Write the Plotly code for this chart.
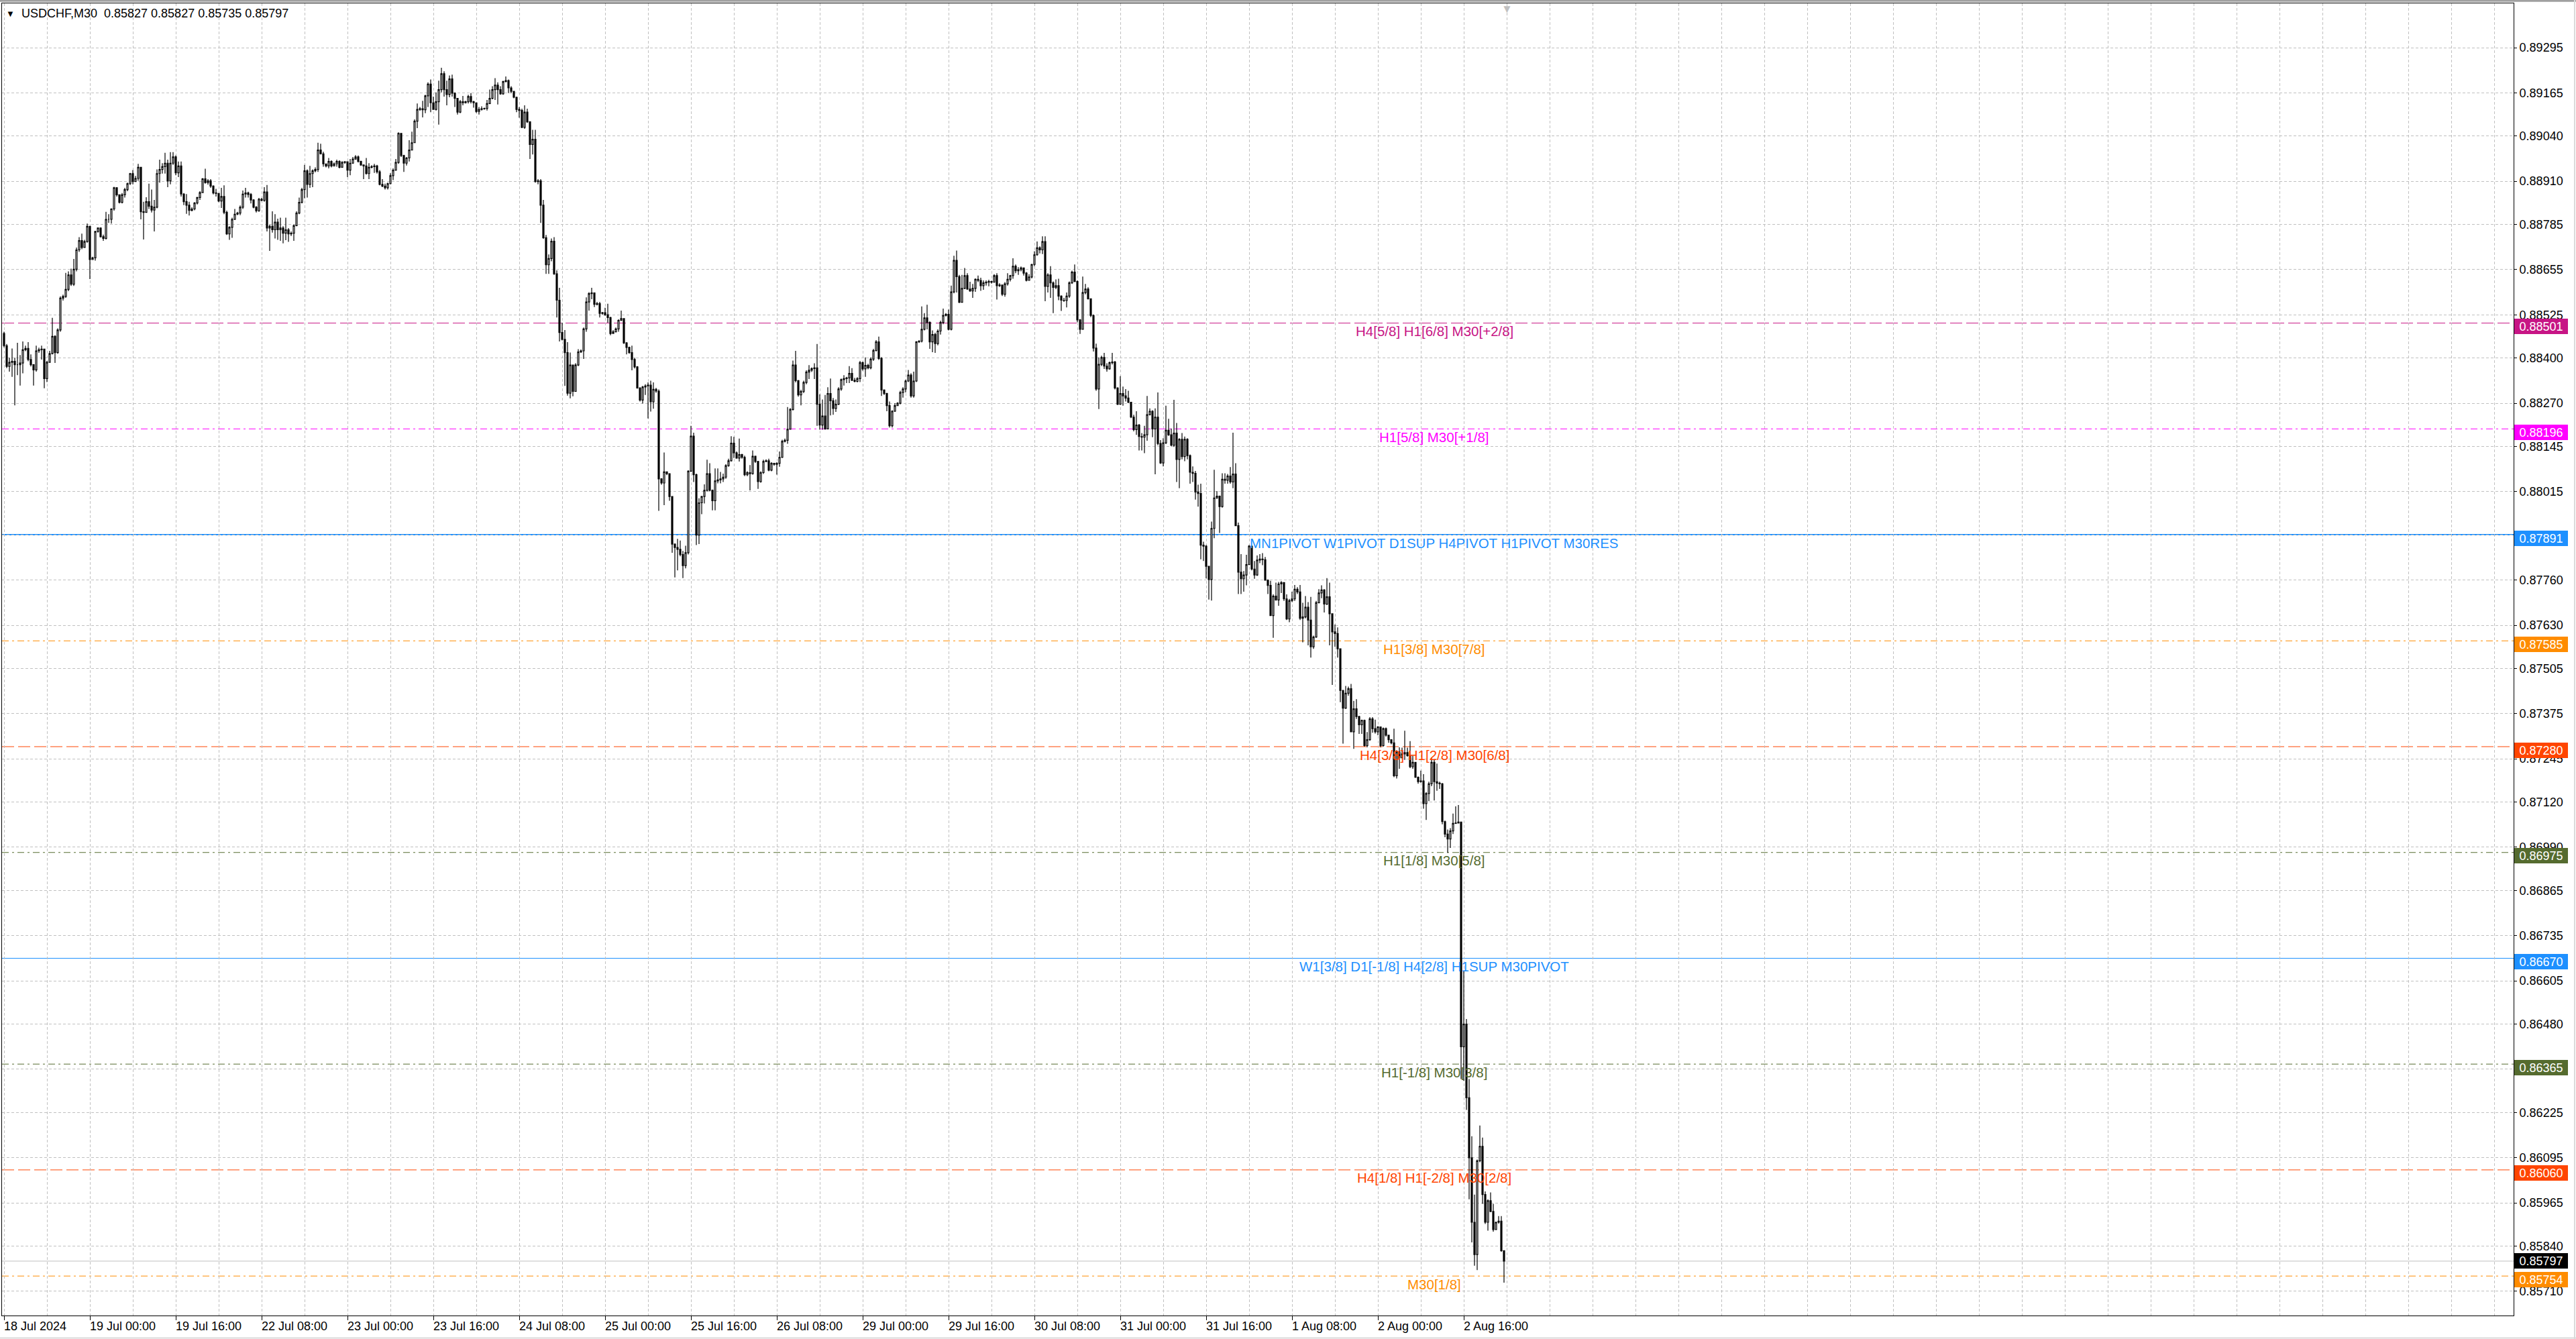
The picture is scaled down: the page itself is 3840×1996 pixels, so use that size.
import pandas as pd
import plotly.graph_objects as go

# USDCHF M30 candles, 18 Jul 08:00 .. 2 Aug 23:30 (broker time)
# prices are kept in points (1 point = 0.00001)
first_open = 88471
close_pts = [
    88436, 88376, 88388, 88391, 88381, 88381, 88386, 88424, 88428, 88396,
    88381, 88366, 88421, 88424, 88426, 88341, 88388, 88413, 88463, 88416,
    88481, 88573, 88578, 88598, 88640, 88613, 88656, 88712, 88739, 88719,
    88736, 88780, 88684, 88689, 88765, 88775, 88750, 88745, 88800, 88800,
    88830, 88891, 88871, 88849, 88871, 88886, 88903, 88932, 88909, 88918,
    88950, 88822, 88820, 88851, 88838, 88827, 88835, 88932, 88944, 88952,
    88962, 88911, 88962, 88980, 88934, 88954, 88873, 88851, 88841, 88826,
    88830, 88847, 88863, 88877, 88917, 88906, 88911, 88896, 88876, 88875,
    88853, 88866, 88820, 88758, 88777, 88800, 88815, 88818, 88835, 88873,
    88876, 88872, 88856, 88835, 88825, 88858, 88855, 88879, 88775, 88780,
    88770, 88792, 88770, 88775, 88760, 88770, 88758, 88760, 88782, 88818,
    88849, 88886, 88940, 88901, 88932, 88940, 88944, 89000, 88989, 88960,
    88954, 88967, 88954, 88960, 88967, 88950, 88964, 88966, 88942, 88962,
    88974, 88980, 88967, 88957, 88954, 88932, 88950, 88952, 88954, 88937,
    88901, 88896, 88891, 88903, 88926, 88942, 88964, 89048, 88984, 88962,
    88977, 89000, 89021, 89083, 89117, 89119, 89116, 89156, 89190, 89136,
    89117, 89139, 89174, 89220, 89174, 89160, 89205, 89164, 89149, 89109,
    89139, 89136, 89139, 89154, 89139, 89136, 89111, 89117, 89119, 89120,
    89134, 89149, 89174, 89187, 89174, 89162, 89197, 89200, 89179, 89169,
    89152, 89117, 89114, 89065, 89109, 89081, 89016, 89031, 88909, 88911,
    88841, 88747, 88669, 88687, 88737, 88643, 88567, 88474, 88454, 88416,
    88299, 88380, 88304, 88380, 88418, 88421, 88484, 88562, 88586, 88588,
    88555, 88557, 88529, 88531, 88525, 88517, 88471, 88476, 88484, 88509,
    88514, 88444, 88431, 88416, 88396, 88375, 88314, 88279, 88317, 88320,
    88322, 88274, 88310, 88305, 88052, 88040, 88072, 88067, 88001, 87864,
    87854, 87849, 87834, 87802, 87839, 88074, 88175, 88064, 87890, 87983,
    88001, 88019, 88067, 88019, 87989, 88046, 88049, 88052, 88057, 88090,
    88104, 88155, 88127, 88112, 88122, 88114, 88064, 88070, 88067, 88117,
    88102, 88044, 88070, 88102, 88104, 88077, 88097, 88094, 88097, 88114,
    88160, 88163, 88195, 88252, 88380, 88335, 88294, 88304, 88330, 88360,
    88365, 88370, 88372, 88267, 88207, 88233, 88196, 88298, 88277, 88255,
    88267, 88311, 88338, 88341, 88343, 88356, 88336, 88333, 88341, 88387,
    88369, 88379, 88372, 88397, 88422, 88447, 88399, 88308, 88298, 88263,
    88205, 88247, 88263, 88270, 88301, 88311, 88334, 88351, 88291, 88334,
    88447, 88449, 88483, 88516, 88503, 88447, 88468, 88442, 88478, 88503,
    88523, 88526, 88483, 88591, 88682, 88635, 88561, 88601, 88638, 88599,
    88594, 88601, 88627, 88624, 88609, 88617, 88619, 88621, 88619, 88638,
    88609, 88611, 88584, 88614, 88627, 88638, 88665, 88652, 88655, 88660,
    88645, 88624, 88634, 88670, 88698, 88718, 88712, 88736, 88607, 88640,
    88617, 88604, 88609, 88579, 88567, 88566, 88579, 88617, 88648, 88621,
    88510, 88483, 88589, 88599, 88571, 88523, 88429, 88311, 88382, 88402,
    88377, 88369, 88387, 88389, 88314, 88267, 88298, 88291, 88285, 88273,
    88230, 88194, 88207, 88174, 88172, 88179, 88237, 88247, 88196, 88230,
    88154, 88098, 88156, 88192, 88179, 88149, 88184, 88108, 88166, 88116,
    88166, 88119, 88071, 88068, 88014, 88010, 87861, 87858, 87800, 87762,
    87909, 87997, 88002, 87972, 88051, 88048, 88060, 88043, 88066, 87917,
    87783, 87764, 87775, 87805, 87858, 87792, 87775, 87818, 87821, 87819,
    87760, 87745, 87658, 87714, 87703, 87749, 87753, 87706, 87648, 87701,
    87706, 87734, 87726, 87650, 87654, 87682, 87645, 87568, 87596, 87695,
    87723, 87732, 87691, 87712, 87663, 87611, 87606, 87562, 87442, 87391,
    87434, 87447, 87323, 87389, 87367, 87343, 87356, 87283, 87300, 87360,
    87332, 87323, 87337, 87283, 87332, 87313, 87300, 87291, 87196, 87265,
    87248, 87259, 87263, 87254, 87222, 87235, 87192, 87179, 87181, 87116,
    87145, 87173, 87235, 87179, 87175, 87173, 87064, 87028, 87014, 87037,
    87059, 87060, 87063, 86415, 86480, 86268, 86095, 85909, 85816, 86086,
    86128, 85989, 85909, 85971, 85940, 85888, 85909, 85912, 85827, 85797,
]
high_pts = [
    88476, 88441, 88401, 88428, 88401, 88444, 88409, 88448, 88436, 88446,
    88411, 88383, 88436, 88430, 88436, 88426, 88392, 88421, 88516, 88466,
    88486, 88578, 88583, 88646, 88650, 88658, 88686, 88719, 88749, 88759,
    88741, 88788, 88691, 88692, 88767, 88777, 88777, 88756, 88822, 88815,
    88832, 88894, 88893, 88871, 88876, 88891, 88906, 88934, 88942, 88925,
    88960, 88950, 88851, 88864, 88903, 88886, 88856, 88944, 88972, 88962,
    88992, 88972, 88994, 88994, 88984, 88967, 88967, 88876, 88873, 88851,
    88835, 88850, 88865, 88881, 88919, 88946, 88916, 88916, 88898, 88888,
    88856, 88891, 88898, 88825, 88780, 88805, 88830, 88822, 88840, 88883,
    88891, 88880, 88876, 88858, 88838, 88862, 88862, 88893, 88899, 88785,
    88823, 88815, 88802, 88805, 88780, 88805, 88775, 88765, 88785, 88823,
    88863, 88891, 88957, 88944, 88954, 88944, 88950, 89021, 89018, 88995,
    88960, 88977, 88970, 88964, 88972, 88970, 88968, 88968, 88947, 88974,
    88980, 88985, 88984, 88969, 88958, 88977, 88962, 88956, 88960, 88957,
    88942, 88916, 88903, 88906, 88933, 88947, 88974, 89051, 89023, 88986,
    88980, 89028, 89053, 89088, 89134, 89124, 89142, 89159, 89195, 89203,
    89154, 89166, 89200, 89237, 89227, 89200, 89215, 89217, 89166, 89149,
    89144, 89156, 89142, 89159, 89164, 89142, 89129, 89124, 89126, 89122,
    89144, 89174, 89184, 89207, 89195, 89184, 89200, 89212, 89203, 89184,
    89170, 89154, 89124, 89119, 89129, 89119, 89083, 89058, 89058, 88916,
    88916, 88856, 88755, 88699, 88745, 88749, 88653, 88603, 88502, 88481,
    88446, 88416, 88380, 88385, 88426, 88425, 88488, 88575, 88590, 88603,
    88588, 88562, 88562, 88533, 88545, 88557, 88519, 88481, 88488, 88512,
    88537, 88514, 88446, 88433, 88436, 88401, 88377, 88316, 88320, 88325,
    88330, 88335, 88330, 88314, 88310, 88054, 88128, 88072, 88067, 88001,
    87866, 87879, 87874, 87844, 87859, 88077, 88205, 88185, 88067, 87996,
    88003, 88036, 88107, 88097, 88021, 88082, 88082, 88072, 88067, 88094,
    88110, 88175, 88173, 88131, 88168, 88124, 88119, 88074, 88092, 88134,
    88119, 88104, 88074, 88107, 88108, 88110, 88100, 88098, 88100, 88131,
    88165, 88168, 88259, 88256, 88393, 88421, 88337, 88309, 88335, 88365,
    88380, 88373, 88385, 88441, 88296, 88281, 88294, 88316, 88341, 88285,
    88281, 88316, 88341, 88351, 88346, 88377, 88371, 88343, 88345, 88392,
    88390, 88402, 88384, 88402, 88427, 88452, 88462, 88403, 88310, 88300,
    88275, 88250, 88270, 88273, 88306, 88316, 88338, 88366, 88356, 88361,
    88449, 88452, 88549, 88530, 88554, 88506, 88480, 88473, 88483, 88508,
    88543, 88530, 88540, 88609, 88695, 88710, 88640, 88640, 88660, 88645,
    88620, 88614, 88630, 88638, 88632, 88624, 88624, 88626, 88623, 88642,
    88645, 88616, 88612, 88619, 88645, 88640, 88688, 88670, 88662, 88664,
    88655, 88648, 88642, 88672, 88708, 88736, 88722, 88751, 88751, 88645,
    88665, 88621, 88627, 88629, 88581, 88574, 88589, 88621, 88652, 88670,
    88624, 88513, 88635, 88614, 88604, 88571, 88526, 88442, 88402, 88407,
    88415, 88385, 88390, 88415, 88392, 88316, 88348, 88318, 88311, 88306,
    88273, 88237, 88247, 88210, 88184, 88205, 88291, 88255, 88250, 88255,
    88301, 88164, 88169, 88263, 88225, 88197, 88280, 88213, 88169, 88184,
    88174, 88169, 88122, 88088, 88075, 88035, 88038, 87871, 87861, 87800,
    87929, 88078, 88017, 88004, 88068, 88068, 88066, 88086, 88185, 88097,
    87926, 87835, 87786, 87833, 87861, 87844, 87815, 87831, 87835, 87838,
    87827, 87762, 87758, 87719, 87753, 87755, 87757, 87732, 87719, 87706,
    87727, 87746, 87740, 87746, 87695, 87714, 87697, 87712, 87600, 87700,
    87734, 87745, 87734, 87766, 87753, 87658, 87632, 87624, 87546, 87444,
    87455, 87453, 87461, 87412, 87417, 87369, 87358, 87358, 87322, 87365,
    87365, 87358, 87339, 87337, 87335, 87335, 87309, 87300, 87332, 87270,
    87278, 87277, 87326, 87277, 87296, 87254, 87235, 87194, 87211, 87201,
    87149, 87179, 87248, 87244, 87231, 87179, 87175, 87067, 87041, 87045,
    87087, 87108, 87112, 87059, 86632, 86495, 86322, 86157, 85989, 86090,
    86188, 86153, 85998, 85975, 85995, 85962, 85911, 85927, 85927, 85827,
]
low_pts = [
    88431, 88371, 88361, 88346, 88264, 88351, 88321, 88356, 88420, 88391,
    88376, 88321, 88361, 88415, 88396, 88313, 88331, 88391, 88411, 88386,
    88413, 88476, 88566, 88574, 88593, 88608, 88608, 88650, 88706, 88714,
    88724, 88733, 88628, 88683, 88681, 88762, 88748, 88738, 88742, 88790,
    88788, 88825, 88866, 88846, 88846, 88863, 88881, 88899, 88901, 88908,
    88911, 88800, 88742, 88820, 88830, 88820, 88765, 88832, 88906, 88932,
    88932, 88893, 88901, 88957, 88927, 88922, 88866, 88841, 88816, 88811,
    88823, 88826, 88843, 88856, 88881, 88903, 88900, 88891, 88872, 88866,
    88850, 88833, 88815, 88755, 88741, 88747, 88798, 88812, 88812, 88830,
    88863, 88863, 88846, 88832, 88820, 88822, 88852, 88851, 88765, 88709,
    88762, 88745, 88741, 88738, 88731, 88740, 88735, 88752, 88738, 88780,
    88815, 88846, 88861, 88863, 88891, 88893, 88936, 88937, 88987, 88952,
    88950, 88947, 88950, 88955, 88952, 88947, 88950, 88960, 88922, 88927,
    88960, 88972, 88964, 88954, 88916, 88929, 88916, 88947, 88934, 88932,
    88898, 88893, 88886, 88886, 88901, 88913, 88940, 88960, 88980, 88937,
    88955, 88967, 89000, 89020, 89063, 89113, 89094, 89106, 89124, 89109,
    89116, 89114, 89073, 89166, 89154, 89129, 89152, 89154, 89124, 89102,
    89106, 89129, 89134, 89134, 89134, 89122, 89107, 89102, 89114, 89116,
    89114, 89132, 89146, 89144, 89131, 89159, 89159, 89195, 89164, 89164,
    89149, 89109, 89093, 89063, 89061, 89078, 88974, 88987, 88906, 88901,
    88790, 88744, 88643, 88643, 88679, 88640, 88517, 88448, 88451, 88320,
    88292, 88284, 88290, 88323, 88377, 88415, 88398, 88476, 88537, 88570,
    88547, 88552, 88517, 88525, 88522, 88502, 88466, 88471, 88474, 88476,
    88507, 88441, 88411, 88413, 88365, 88370, 88312, 88275, 88269, 88294,
    88226, 88246, 88254, 88300, 87960, 88035, 87976, 88063, 87989, 87839,
    87768, 87788, 87829, 87766, 87794, 87834, 88072, 88043, 87861, 87864,
    87950, 87981, 88016, 88016, 87961, 87961, 88039, 88039, 88043, 88052,
    88087, 88102, 88112, 88110, 88102, 88110, 88060, 88060, 88019, 88064,
    88098, 88023, 88041, 88066, 88100, 88074, 88074, 88090, 88064, 88087,
    88112, 88157, 88153, 88195, 88249, 88330, 88289, 88264, 88299, 88325,
    88340, 88360, 88340, 88205, 88194, 88194, 88194, 88205, 88235, 88237,
    88245, 88265, 88306, 88321, 88328, 88328, 88334, 88330, 88330, 88331,
    88364, 88346, 88368, 88368, 88392, 88419, 88395, 88291, 88294, 88247,
    88200, 88200, 88245, 88262, 88267, 88286, 88301, 88331, 88286, 88286,
    88331, 88444, 88445, 88480, 88483, 88427, 88417, 88415, 88437, 88468,
    88498, 88520, 88480, 88480, 88587, 88589, 88559, 88564, 88599, 88597,
    88591, 88574, 88591, 88619, 88594, 88597, 88609, 88607, 88615, 88619,
    88569, 88605, 88579, 88577, 88609, 88621, 88629, 88645, 88640, 88650,
    88638, 88621, 88624, 88630, 88665, 88695, 88702, 88700, 88564, 88589,
    88574, 88530, 88599, 88567, 88536, 88562, 88546, 88574, 88614, 88619,
    88503, 88470, 88496, 88584, 88569, 88518, 88419, 88306, 88253, 88377,
    88369, 88361, 88367, 88382, 88310, 88265, 88294, 88263, 88275, 88270,
    88227, 88189, 88179, 88134, 88134, 88126, 88162, 88235, 88172, 88065,
    88149, 88095, 88088, 88152, 88176, 88146, 88144, 88043, 88025, 88108,
    88103, 88108, 88038, 88043, 87992, 87972, 87820, 87815, 87765, 87704,
    87701, 87881, 87994, 87896, 87969, 88038, 88038, 88038, 88025, 87916,
    87720, 87720, 87727, 87745, 87805, 87788, 87764, 87772, 87809, 87803,
    87759, 87720, 87657, 87594, 87701, 87686, 87723, 87700, 87645, 87639,
    87697, 87700, 87720, 87645, 87581, 87650, 87572, 87537, 87562, 87594,
    87693, 87708, 87667, 87688, 87572, 87458, 87568, 87537, 87408, 87289,
    87389, 87427, 87322, 87274, 87360, 87317, 87317, 87280, 87278, 87297,
    87320, 87318, 87313, 87278, 87280, 87309, 87291, 87287, 87192, 87188,
    87216, 87254, 87242, 87251, 87218, 87216, 87190, 87173, 87176, 87101,
    87069, 87123, 87166, 87125, 87153, 87158, 87056, 87019, 86974, 86988,
    87028, 87057, 87059, 86322, 86317, 86233, 85975, 85851, 85784, 85771,
    86082, 85962, 85904, 85885, 85938, 85882, 85887, 85905, 85824, 85735,
]

trading_days = ["2024-07-18", "2024-07-19", "2024-07-22", "2024-07-23", "2024-07-24",
                "2024-07-25", "2024-07-26", "2024-07-29", "2024-07-30", "2024-07-31",
                "2024-08-01", "2024-08-02"]

x_tick_times = ["2024-07-18 08:00", "2024-07-19 00:00", "2024-07-19 16:00", "2024-07-22 08:00",
                "2024-07-23 00:00", "2024-07-23 16:00", "2024-07-24 08:00", "2024-07-25 00:00",
                "2024-07-25 16:00", "2024-07-26 08:00", "2024-07-29 00:00", "2024-07-29 16:00",
                "2024-07-30 08:00", "2024-07-31 00:00", "2024-07-31 16:00", "2024-08-01 08:00",
                "2024-08-02 00:00", "2024-08-02 16:00"]
x_tick_labels = ["18 Jul 2024", "19 Jul 00:00", "19 Jul 16:00", "22 Jul 08:00", "23 Jul 00:00",
                 "23 Jul 16:00", "24 Jul 08:00", "25 Jul 00:00", "25 Jul 16:00", "26 Jul 08:00",
                 "29 Jul 00:00", "29 Jul 16:00", "30 Jul 08:00", "31 Jul 00:00", "31 Jul 16:00",
                 "1 Aug 08:00", "2 Aug 00:00", "2 Aug 16:00"]

y_tick_values = [0.89295, 0.89165, 0.89040, 0.88910, 0.88785, 0.88655, 0.88525, 0.88400,
                 0.88270, 0.88145, 0.88015, 0.87890, 0.87760, 0.87630, 0.87505, 0.87375,
                 0.87245, 0.87120, 0.86990, 0.86865, 0.86735, 0.86605, 0.86480, 0.86350,
                 0.86225, 0.86095, 0.85965, 0.85840, 0.85710]

# Murrey / pivot levels drawn by the indicator
level_values = [0.88501, 0.88196, 0.87891, 0.87585, 0.87280, 0.86975, 0.86670, 0.86365, 0.86060, 0.85754]
level_colors = ["#C71585", "#FF00FF", "#1E90FF", "#FF8C00", "#FF4500",
                "#556B2F", "#1E90FF", "#556B2F", "#FF4500", "#FF8C00"]
level_styles = ["dash", "dashdot", "solid", "dashdot", "dash",
                "dashdot", "solid", "dashdot", "dash", "dashdot"]
level_widths = [1, 1, 2, 1, 1, 1, 1, 1, 1, 1]
level_labels = ["H4[5/8] H1[6/8] M30[+2/8]", "H1[5/8] M30[+1/8]",
                "MN1PIVOT W1PIVOT D1SUP H4PIVOT H1PIVOT M30RES", "H1[3/8] M30[7/8]",
                "H4[3/8] H1[2/8] M30[6/8]", "H1[1/8] M30[5/8]",
                "W1[3/8] D1[-1/8] H4[2/8] H1SUP M30PIVOT", "H1[-1/8] M30[3/8]",
                "H4[1/8] H1[-2/8] M30[2/8]", "M30[1/8]"]
label_time = "2024-08-02 10:30"

symbol = "USDCHF,M30"
last_price = 0.85797

dash_map = {"dash": "18px,6px", "dashdot": "10px,5px,3px,5px", "solid": "solid"}

# bar times (no weekends), index of each bar is its x position
times = []
for d in trading_days:
    times.extend(pd.date_range(d, periods=48, freq="30min"))
times = pd.DatetimeIndex(times)
times = times[times >= pd.Timestamp("2024-07-18 08:00")]

c = [v / 1e5 for v in close_pts]
o = [first_open / 1e5] + c[:-1]
h = [max(v / 1e5, a, b) for v, a, b in zip(high_pts, o, c)]
l = [min(v / 1e5, a, b) for v, a, b in zip(low_pts, o, c)]
xs = list(range(len(c)))

tick_pos = [int(times.get_loc(pd.Timestamp(t))) for t in x_tick_times]
label_x = int(times.get_loc(pd.Timestamp(label_time)))

font = "Liberation Sans, Arial, sans-serif"
grid = "#C0C0C0"

fig = go.Figure()
fig.add_trace(go.Candlestick(
    x=xs, open=o, high=h, low=l, close=c,
    increasing=dict(line=dict(color="black", width=1.2), fillcolor="white"),
    decreasing=dict(line=dict(color="black", width=1.2), fillcolor="black"),
    whiskerwidth=0, showlegend=False, hoverinfo="skip"))

for val, col, sty, wd, txt in zip(level_values, level_colors, level_styles, level_widths, level_labels):
    fig.add_shape(type="line", xref="paper", x0=0, x1=1, yref="y", y0=val, y1=val,
                  line=dict(color=col, width=wd, dash=dash_map[sty]), layer="between")
    fig.add_annotation(x=label_x, y=val, text=txt, showarrow=False, xanchor="center",
                       yanchor="middle", yshift=-12, font=dict(family=font, size=20.5, color=col))
    fig.add_annotation(xref="paper", x=1, y=val, text=f"{val:.5f}", showarrow=False,
                       xanchor="left", xshift=1, yanchor="middle", yshift=-5,
                       bgcolor=col, bordercolor=col, borderwidth=1, borderpad=1,
                       width=76, height=19, align="center",
                       font=dict(family=font, size=18, color="white"))

# current bid line and label
fig.add_shape(type="line", xref="paper", x0=0, x1=1, yref="y", y0=last_price, y1=last_price,
              line=dict(color="#C0C0C0", width=1), layer="between")
fig.add_annotation(xref="paper", x=1, y=last_price, text=f"{last_price:.5f}", showarrow=False,
                   xanchor="left", xshift=1, yanchor="middle",
                   bgcolor="black", bordercolor="black", borderwidth=1, borderpad=1,
                   width=76, height=19, align="center",
                   font=dict(family=font, size=18, color="white"))

for pos, txt in zip(tick_pos, x_tick_labels):
    fig.add_annotation(x=pos, yref="paper", y=0, text=txt, showarrow=False,
                       xanchor="left", yanchor="top", yshift=-4, xshift=-2,
                       font=dict(family=font, size=18, color="black"))

# header line
fig.add_annotation(xref="paper", yref="paper", x=0, y=1, text="\u25BC", showarrow=False,
                   xanchor="left", yanchor="top", xshift=4, yshift=-6,
                   font=dict(family=font, size=13, color="black"))
fig.add_annotation(xref="paper", yref="paper", x=0, y=1,
                   text=f"{symbol}&nbsp;&nbsp;{o[-1]:.5f} {h[-1]:.5f} {l[-1]:.5f} {c[-1]:.5f}",
                   showarrow=False, xanchor="left", yanchor="top", xshift=27, yshift=-3,
                   font=dict(family=font, size=18, color="black"))
# chart shift marker just after the last bar
fig.add_annotation(x=len(c), yref="paper", y=1, text="\u25BC", showarrow=False,
                   xanchor="center", yanchor="top", yshift=3,
                   font=dict(family=font, size=17, color="#C0C0C0"))

# terminal window frame (gray edges outside the chart)
fig.add_shape(type="line", xref="paper", yref="paper", x0=-0.001, x1=1.026, y0=1.0019, y1=1.0019,
              line=dict(color="#A0A0A0", width=3))
fig.add_shape(type="line", xref="paper", yref="paper", x0=-0.001, x1=1.026, y0=-0.0171, y1=-0.0171,
              line=dict(color="#DADADA", width=2))
fig.add_shape(type="line", xref="paper", yref="paper", x0=1.0243, x1=1.0243, y0=-0.018, y1=1.003,
              line=dict(color="#DADADA", width=2))

minor_pos = [k for k in range(16, 936, 16) if k not in tick_pos]

fig.update_layout(
    width=3840, height=1996,
    margin=dict(l=3, r=93, t=5, b=35),
    paper_bgcolor="white", plot_bgcolor="white",
    font=dict(family=font, size=18, color="black"),
    showlegend=False,
    xaxis=dict(range=[-0.75, 935.25], tickvals=tick_pos, showticklabels=False,
               ticks="outside", ticklen=6, tickcolor="black",
               showgrid=True, gridcolor=grid, griddash="4px,3px", gridwidth=1,
               minor=dict(tickvals=minor_pos, showgrid=True, gridcolor=grid,
                          griddash="4px,3px", gridwidth=1, ticks=""),
               showline=True, linecolor="black", linewidth=1, mirror=True,
               zeroline=False, rangeslider=dict(visible=False), fixedrange=True),
    yaxis=dict(range=[0.856402, 0.894227], side="right", tickvals=y_tick_values,
               ticktext=[f"{v:.5f}" for v in y_tick_values],
               ticks="outside", ticklen=4, tickcolor="black",
               tickfont=dict(family=font, size=18, color="black"),
               showgrid=True, gridcolor=grid, griddash="4px,3px", gridwidth=1,
               showline=True, linecolor="black", linewidth=1, mirror=True,
               zeroline=False, fixedrange=True),
)

# the page body has a default 8px margin; drop it so the figure sits at the window corner
fig.write_html("out.html", config={"displayModeBar": False},
               post_script="document.body.style.margin='0px';")
